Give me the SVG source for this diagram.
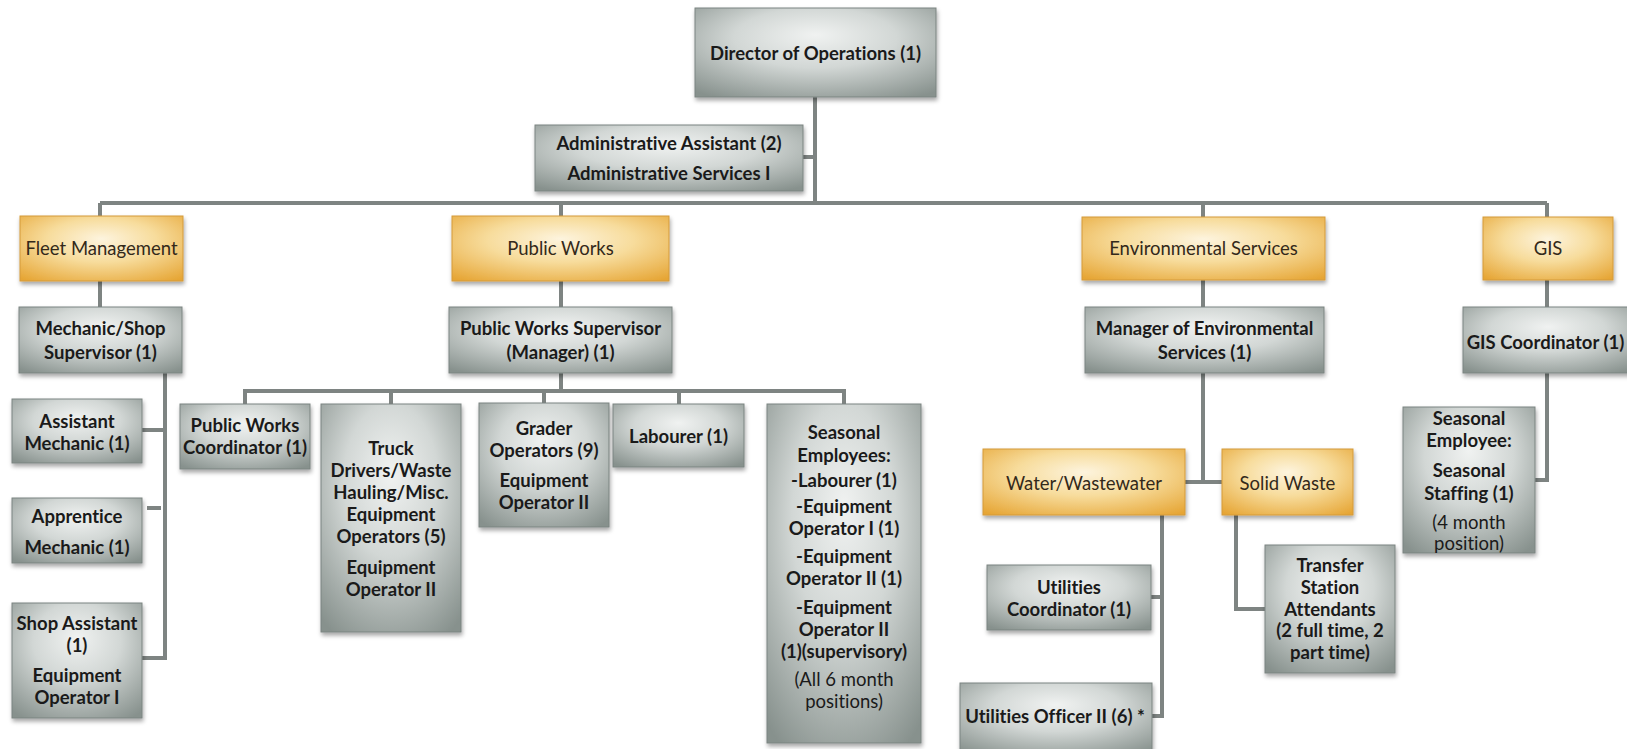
<svg xmlns="http://www.w3.org/2000/svg" width="1627" height="749" viewBox="0 0 1627 749">
  <defs>
    <radialGradient id="gGrey" cx="50%" cy="38%" r="75%" fx="50%" fy="30%">
      <stop offset="0%" stop-color="#f0f2f1"/>
      <stop offset="45%" stop-color="#d2d7d5"/>
      <stop offset="100%" stop-color="#87918d"/>
    </radialGradient>
    <radialGradient id="gOrange" cx="50%" cy="40%" r="75%" fx="50%" fy="35%">
      <stop offset="0%" stop-color="#fdf4de"/>
      <stop offset="45%" stop-color="#f7dc9c"/>
      <stop offset="100%" stop-color="#e6a534"/>
    </radialGradient>
    <filter id="shadow" x="-10%" y="-10%" width="125%" height="130%">
      <feDropShadow dx="1" dy="3" stdDeviation="2" flood-color="#000" flood-opacity="0.35"/>
    </filter>
  </defs>
  <style>
    .g { fill: url(#gGrey); stroke: #7b8481; stroke-width: 1; filter: url(#shadow); }
    .o { fill: url(#gOrange); stroke: #d49a3a; stroke-width: 1; filter: url(#shadow); }
    text { font-family: Lato, "Open Sans", "Liberation Sans", sans-serif; font-size: 18.5px; text-anchor: middle; dominant-baseline: central; fill: #1a1a1a; font-variant-ligatures: none; }
    .b { font-weight: bold; }
    .r { font-weight: normal; }
    .ot { font-weight: normal; fill: #33291a; }
    .conn { stroke: #7e8482; stroke-width: 4; fill: none; stroke-linecap: butt; stroke-linejoin: miter; }
  </style>
  <rect width="1627" height="749" fill="#ffffff"/>

  <!-- connectors -->
  <g id="connectors" class="conn">
    <path d="M815 97 V203"/>
    <path d="M803 157 H815"/>
    <path d="M100 203 H1547"/>
    <path d="M100 203 V216 M561 203 V216 M1203 203 V217 M1547 203 V217"/>
    <path d="M100 281 V307 M561 281 V307 M1203 280 V307 M1547 280 V307"/>
    <!-- fleet management column -->
    <path d="M165 373 V658 H142"/>
    <path d="M142 430 H165"/>
    <path d="M147 508 H161"/>
    <!-- public works branch -->
    <path d="M561 373 V391"/>
    <path d="M245 404 V391 H844 V404"/>
    <path d="M391 391 V404 M544 391 V403 M679 391 V404"/>
    <!-- environmental services branch -->
    <path d="M1203 373 V482"/>
    <path d="M1185 482 H1222"/>
    <path d="M1162 515 V716 H1152"/>
    <path d="M1151 597 H1162"/>
    <path d="M1236 515 V609 H1265"/>
    <!-- GIS branch -->
    <path d="M1547 373 V480 H1535"/>
  </g>

  <g id="director">
    <rect class="g" x="695" y="8" width="241" height="89"/>
    <text class="b" x="815.5" y="53">Director of Operations (1)</text>
  </g>
  <g id="admin-assistant">
    <rect class="g" x="535" y="125" width="268" height="66"/>
    <text class="b"><tspan x="669" y="143">Administrative Assistant (2)</tspan><tspan x="669" y="173">Administrative Services I</tspan></text>
  </g>

  <g id="fleet-management">
    <rect class="o" x="20" y="216" width="163" height="65"/>
    <text class="ot" x="101.5" y="248">Fleet Management</text>
  </g>
  <g id="public-works">
    <rect class="o" x="452" y="216" width="217" height="65"/>
    <text class="ot" x="560.5" y="248">Public Works</text>
  </g>
  <g id="environmental-services">
    <rect class="o" x="1082" y="217" width="243" height="63"/>
    <text class="ot" x="1203.5" y="248">Environmental Services</text>
  </g>
  <g id="gis">
    <rect class="o" x="1483" y="217" width="130" height="63"/>
    <text class="ot" x="1548" y="248">GIS</text>
  </g>

  <g id="mechanic-supervisor">
    <rect class="g" x="19" y="307" width="163" height="66"/>
    <text class="b"><tspan x="100.5" y="328">Mechanic/Shop</tspan><tspan x="100.5" y="352">Supervisor (1)</tspan></text>
  </g>
  <g id="pw-supervisor">
    <rect class="g" x="449" y="307" width="223" height="66"/>
    <text class="b"><tspan x="560.5" y="328">Public Works  Supervisor</tspan><tspan x="560.5" y="352">(Manager) (1)</tspan></text>
  </g>
  <g id="env-manager">
    <rect class="g" x="1085" y="307" width="239" height="66"/>
    <text class="b"><tspan x="1204.5" y="328">Manager of Environmental</tspan><tspan x="1204.5" y="352">Services (1)</tspan></text>
  </g>
  <g id="gis-coordinator">
    <rect class="g" x="1463" y="307" width="170" height="66"/>
    <text class="b" x="1545.5" y="342">GIS Coordinator (1)</text>
  </g>

  <g id="assistant-mechanic">
    <rect class="g" x="12" y="399" width="130" height="64"/>
    <text class="b"><tspan x="77" y="421">Assistant</tspan><tspan x="77" y="443">Mechanic  (1)</tspan></text>
  </g>
  <g id="apprentice-mechanic">
    <rect class="g" x="12" y="498" width="130" height="65"/>
    <text class="b"><tspan x="77" y="516">Apprentice</tspan><tspan x="77" y="547">Mechanic  (1)</tspan></text>
  </g>
  <g id="shop-assistant">
    <rect class="g" x="12" y="603" width="130" height="115"/>
    <text class="b"><tspan x="77" y="623">Shop Assistant</tspan><tspan x="77" y="645">(1)</tspan><tspan x="77" y="675">Equipment</tspan><tspan x="77" y="697">Operator I</tspan></text>
  </g>

  <g id="pw-coordinator">
    <rect class="g" x="180" y="404" width="130" height="65"/>
    <text class="b"><tspan x="245" y="425">Public Works</tspan><tspan x="245" y="447">Coordinator (1)</tspan></text>
  </g>
  <g id="truck-drivers">
    <rect class="g" x="321" y="404" width="140" height="228"/>
    <text class="b"><tspan x="391" y="448">Truck</tspan><tspan x="391" y="470">Drivers/Waste</tspan><tspan x="391" y="492">Hauling/Misc.</tspan><tspan x="391" y="514">Equipment</tspan><tspan x="391" y="536">Operators (5)</tspan><tspan x="391" y="567">Equipment</tspan><tspan x="391" y="589">Operator II</tspan></text>
  </g>
  <g id="grader-operators">
    <rect class="g" x="479" y="403" width="130" height="124"/>
    <text class="b"><tspan x="544" y="428">Grader</tspan><tspan x="544" y="450">Operators (9)</tspan><tspan x="544" y="480">Equipment</tspan><tspan x="544" y="502">Operator II</tspan></text>
  </g>
  <g id="labourer">
    <rect class="g" x="613" y="404" width="131" height="63"/>
    <text class="b" x="678.5" y="436">Labourer (1)</text>
  </g>
  <g id="seasonal-employees">
    <rect class="g" x="767" y="404" width="154" height="339"/>
    <text class="b"><tspan x="844" y="432">Seasonal</tspan><tspan x="844" y="455">Employees:</tspan><tspan x="844" y="480">-Labourer (1)</tspan><tspan x="844" y="506">-Equipment</tspan><tspan x="844" y="528">Operator I (1)</tspan><tspan x="844" y="556">-Equipment</tspan><tspan x="844" y="578">Operator II (1)</tspan><tspan x="844" y="607">-Equipment</tspan><tspan x="844" y="629">Operator II</tspan><tspan x="844" y="651">(1)(supervisory)</tspan></text>
    <text class="r"><tspan x="844" y="679">(All 6 month</tspan><tspan x="844" y="701">positions)</tspan></text>
  </g>

  <g id="water-wastewater">
    <rect class="o" x="983" y="449" width="202" height="66"/>
    <text class="ot" x="1084" y="483">Water/Wastewater</text>
  </g>
  <g id="solid-waste">
    <rect class="o" x="1222" y="449" width="131" height="66"/>
    <text class="ot" x="1287.5" y="483">Solid Waste</text>
  </g>
  <g id="utilities-coordinator">
    <rect class="g" x="987" y="565" width="164" height="65"/>
    <text class="b"><tspan x="1069" y="587">Utilities</tspan><tspan x="1069" y="609">Coordinator (1)</tspan></text>
  </g>
  <g id="utilities-officer">
    <rect class="g" x="960" y="683" width="192" height="72"/>
    <text class="b" x="1055" y="716">Utilities Officer II (6) *</text>
  </g>
  <g id="transfer-station">
    <rect class="g" x="1265" y="545" width="130" height="128"/>
    <text class="b"><tspan x="1330" y="565">Transfer</tspan><tspan x="1330" y="587">Station</tspan><tspan x="1330" y="609">Attendants</tspan><tspan x="1330" y="630">(2 full time, 2</tspan><tspan x="1330" y="652">part time)</tspan></text>
  </g>
  <g id="gis-seasonal">
    <rect class="g" x="1403" y="407" width="132" height="146"/>
    <text class="b"><tspan x="1469" y="418">Seasonal</tspan><tspan x="1469" y="440">Employee:</tspan><tspan x="1469" y="470">Seasonal</tspan><tspan x="1469" y="493">Staffing (1)</tspan></text>
    <text class="r"><tspan x="1469" y="522">(4 month</tspan><tspan x="1469" y="543">position)</tspan></text>
  </g>
</svg>
